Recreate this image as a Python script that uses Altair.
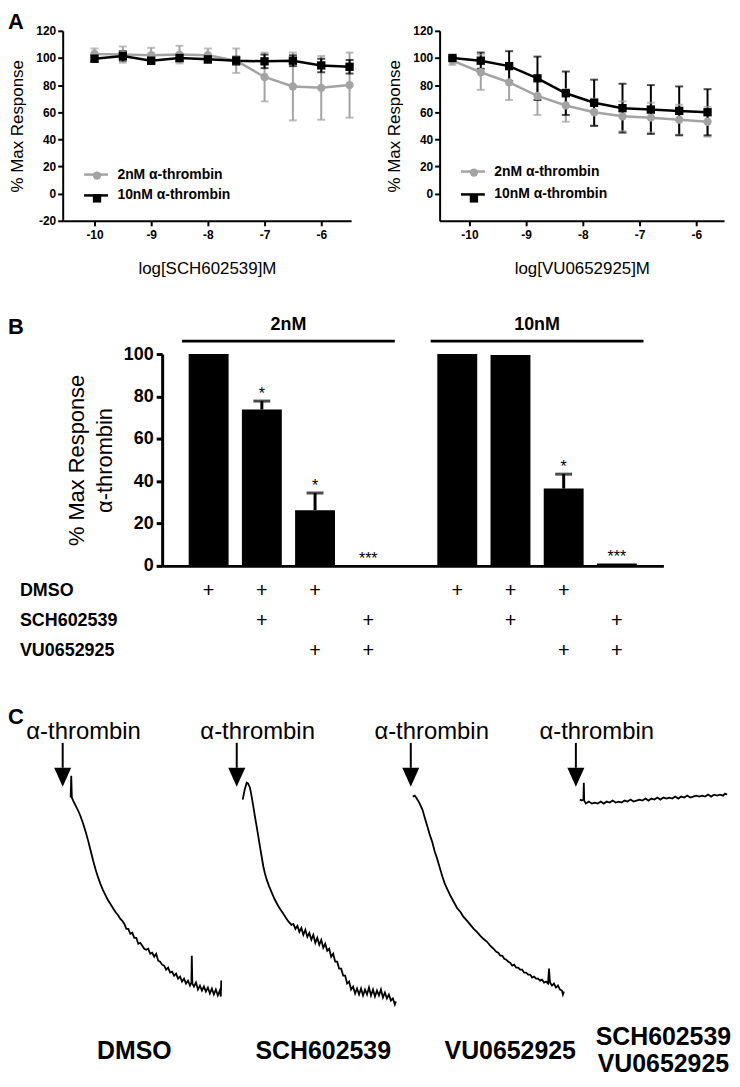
import altair as alt
import pandas as pd

FONT = "Liberation Sans"

# ---------------- Panel A: concentration-response ----------------
series_names = ["2nM α-thrombin", "10nM α-thrombin"]
series_colors = ["#a3a3a3", "#000000"]
series_shapes = ["circle", "square"]
a_xticks = [-10, -9, -8, -7, -6]

sch_logc = [-10, -9.5, -9, -8.5, -8, -7.5, -7, -6.5, -6, -5.5]
sch_2nm = [103, 102.5, 102, 102.5, 102, 98, 86, 79, 78, 80]
sch_2nm_err = [4, 6, 5.5, 6.5, 5, 9, 18, 25, 23.5, 24]
sch_10nm = [99.5, 101.5, 98, 100, 99, 98, 97.5, 98, 94.5, 93.5]
sch_10nm_err = [2.5, 3.5, 2.5, 2.5, 2.5, 3, 5, 4, 5, 5]

vu_logc = [-10.3, -9.8, -9.3, -8.8, -8.3, -7.8, -7.3, -6.8, -6.3, -5.8]
vu_2nm = [98, 89.5, 82, 72, 65, 60, 57, 56, 54.5, 53]
vu_2nm_err = [3, 13, 13, 14, 12, 10, 11, 11, 11, 11]
vu_10nm = [100, 98, 94, 85, 74, 67, 63, 62, 61, 60]
vu_10nm_err = [1, 6, 11, 16, 16, 17, 18, 18, 18, 17]

# ---------------- Panel B: bar chart ----------------
groups = ["2nM", "10nM"]
conds = ["DMSO", "DMSO+SCH602539", "DMSO+VU0652925", "SCH602539+VU0652925"]
resp = {"2nM": [100, 73.8, 26.3, 0], "10nM": [100, 99.5, 36.5, 1.1]}
resp_err = {"2nM": [0, 4, 8.1, 0], "10nM": [0, 0, 6.8, 0]}
resp_sig = {"2nM": ["", "*", "*", "***"], "10nM": ["", "", "*", "***"]}
treat_rows = ["DMSO", "SCH602539", "VU0652925"]
treat_table = {"DMSO": [1, 1, 1, 0], "SCH602539": [0, 1, 0, 1], "VU0652925": [0, 0, 1, 1]}

# ---------------- Panel C: calcium traces (time after addition, signal) ----------------
trace_keys = ["DMSO", "SCH602539", "VU0652925", "SCH602539 + VU0652925"]
trace_labels = ["DMSO", "SCH602539", "VU0652925", "SCH602539\nVU0652925"]
trace_dmso = [
    (8, 212), (8.6, 234), (9.2, 212), (10.5, 209), (13, 204), (15.5, 199), (18, 193), (20.5, 186),
    (23, 178), (25.5, 169), (28, 159), (30.5, 149), (33, 140), (35.5, 132), (38, 125), (40.5, 119),
    (43, 114), (45.5, 109), (48, 105), (50.5, 101), (53, 97), (55.5, 94), (58, 90), (60, 88),
    (62, 85), (64, 80), (66, 80), (68, 75), (70, 76), (72, 71), (74, 71), (76, 65), (78, 66),
    (80, 63), (82, 60), (84, 59), (86, 60), (88, 55), (90, 56), (92, 52), (94, 55), (96, 48),
    (98, 47), (100, 44), (102, 43), (104, 39), (106, 41), (108, 36), (110, 37), (112, 33),
    (114, 35), (116, 30), (118, 32), (120, 27), (122, 30), (124, 25), (126, 28), (128, 23),
    (129.4, 26), (129.8, 53), (130.4, 25), (132, 22), (134, 26), (136, 19), (138, 23), (140, 18),
    (142, 22), (144, 17), (146, 21), (148, 15), (150, 20), (152, 14), (154, 19), (156, 13),
    (158, 18), (159, 12), (159.4, 28),
]
trace_sch = [
    (6, 210), (8, 220), (10, 227), (11.5, 226), (13.3, 222), (15, 213), (16.7, 203), (18.3, 193),
    (20, 183), (21.7, 173), (23.3, 163), (25, 153), (26.7, 143), (28.3, 136), (30, 130),
    (32.5, 123), (35, 117), (38, 110), (41.7, 103), (45, 98), (48.3, 93), (51.5, 88), (55, 84),
    (57, 85), (59, 80), (61, 83), (63, 77), (65, 81), (67, 74), (69, 79), (71, 72), (73, 76),
    (75, 69), (77, 74), (79, 66), (81, 71), (83, 64), (85, 69), (87, 61), (89, 65), (91, 58),
    (93, 60), (95, 52), (97, 55), (99, 47), (101, 47), (103, 40), (105, 40), (107, 33), (109, 33),
    (111, 25), (113, 27), (115, 19), (117, 22), (119, 15), (121, 20), (123, 14), (125, 20),
    (127, 13), (129, 19), (131, 14), (133, 21), (135, 13), (137, 19), (139, 12), (141, 18),
    (143, 13), (145, 19), (147, 11), (149, 16), (151, 10), (153, 14), (155, 8), (157, 10),
    (159, 4), (160, 7),
]
trace_vu = [
    (2, 213), (4, 214), (6, 211), (8.5, 207), (11.7, 200), (14, 192), (16.7, 183), (19, 175),
    (21.7, 167), (24, 158), (26.7, 150), (29, 142), (31.7, 133), (34, 126), (36.7, 120), (40, 113),
    (43.3, 107), (46.5, 101), (50, 97), (53, 92), (56.7, 88), (60, 84), (63.3, 80), (66.5, 77),
    (70, 73), (73, 70), (76.7, 67), (80, 63), (83.3, 60), (86, 57), (88, 56), (90, 53), (92, 53),
    (94, 50), (96, 49), (98, 47), (100, 46), (102, 43), (104, 44), (106, 41), (108, 41), (110, 39),
    (112, 39), (114, 36), (116, 36), (118, 34), (120, 34), (122, 31), (124, 32), (126, 30),
    (128, 30), (130, 28), (132, 29), (134, 26), (136, 27), (138, 25), (139, 40), (140, 26),
    (142, 23), (144, 25), (146, 21), (148, 23), (150, 19), (152, 18), (153, 14), (154, 17),
]
trace_combo = [
    (4, 210), (6, 209), (7.6, 210), (8, 227), (8.4, 209), (10, 206), (13, 208), (16, 206),
    (19, 207), (22, 206), (25, 208), (28, 206), (31, 208), (34, 207), (37, 209), (40, 207),
    (43, 208), (46, 207), (49, 209), (52, 208), (55, 210), (58, 208), (61, 209), (64, 210),
    (67, 209), (70, 211), (73, 209), (76, 211), (79, 210), (82, 212), (85, 210), (88, 212),
    (91, 211), (94, 212), (97, 211), (100, 213), (103, 211), (106, 213), (109, 212), (112, 214),
    (115, 212), (118, 213), (121, 214), (124, 213), (127, 214), (130, 213), (133, 215),
    (136, 213), (139, 215), (142, 214), (145, 215), (148, 214), (150, 216), (152, 215),
]
traces = [trace_dmso, trace_sch, trace_vu, trace_combo]

# layout (pixels inside the shared figure column)
A_LEFT_RANGE = [0, 290]
A_RIGHT_RANGE = [379, 665]
B_RANGE = [100, 604]
C_OFFSETS = [0, 175, 350, 516]
C_SPAN = 153
C_LABEL_DX = [72, 87, 100, 88]
C_LABEL_DY = [0, 0, 0, -14]


def letter(ch, dx, dy):
    return alt.Chart(pd.DataFrame({"letter": [ch]})).mark_text(
        align="left", baseline="top", fontSize=22, fontWeight="bold", color="black"
    ).encode(text="letter:N", x=alt.value(dx), y=alt.value(dy))


def spacer(h):
    return alt.Chart(pd.DataFrame({"gap": [0]})).mark_point(opacity=0).encode(
        x=alt.value(0), y=alt.value(0)).properties(width=10, height=h)


# ======================= panel A =======================
def dose_frame(logc, m1, e1, m2, e2):
    rows = []
    for name, means, errs in ((series_names[0], m1, e1), (series_names[1], m2, e2)):
        for xv, mv, ev in zip(logc, means, errs):
            rows.append({"logc": xv, "series": name, "mean": mv, "lo": mv - ev, "hi": mv + ev})
    return pd.DataFrame(rows)


def dose_panel(df, xdomain, xrange, yvals, xtitle, yoffset, leg):
    xs = alt.Scale(domain=xdomain, range=xrange, nice=False, zero=False)
    ys = alt.Scale(domain=[-20, 120], nice=False, zero=False)
    xaxis = alt.Axis(values=a_xticks, labelExpr="toString(datum.value)", title=xtitle,
                     orient="bottom", labelFontSize=12, labelFontWeight="bold", labelPadding=4,
                     tickSize=5, tickWidth=2, domainWidth=2, titleFontSize=17,
                     titleFontWeight="normal", titlePadding=20, grid=False)
    yaxis = alt.Axis(values=yvals, labelExpr="toString(datum.value)", title="% Max Response",
                     orient="left", offset=yoffset, labelFontSize=12, labelFontWeight="bold",
                     labelPadding=2, tickSize=5, tickWidth=2, domainWidth=2, titleFontSize=17,
                     titleFontWeight="normal", titlePadding=9, grid=False)
    X = alt.X("logc:Q", scale=xs, axis=xaxis)

    def Y(field):
        return alt.Y(f"{field}:Q", scale=ys, axis=yaxis)

    cscale = alt.Scale(domain=series_names, range=series_colors)
    sscale = alt.Scale(domain=series_names, range=series_shapes)
    lx, ly, pitch = leg
    stroke_leg = alt.Legend(title=None, orient="none", legendX=lx, legendY=ly,
                            symbolType="stroke", symbolSize=576, symbolStrokeWidth=2.5,
                            labelFontSize=14, labelFontWeight="bold", labelOffset=8,
                            rowPadding=pitch - 24, padding=0, labelColor="black")
    point_leg = alt.Legend(title=None, orient="none", legendX=lx + 7.5, legendY=ly + 7.5,
                           symbolSize=70, labelFontSize=14, labelExpr="''",
                           rowPadding=pitch - 14, padding=0)
    base = alt.Chart(df)
    nolegend = alt.Color("series:N", scale=cscale, legend=None)
    err = base.mark_rule(strokeWidth=2).encode(X, Y("lo"), y2="hi:Q", color=nolegend)
    cap_lo = base.mark_tick(orient="horizontal", size=8, thickness=2).encode(X, Y("lo"), color=nolegend)
    cap_hi = base.mark_tick(orient="horizontal", size=8, thickness=2).encode(X, Y("hi"), color=nolegend)
    line = base.mark_line(strokeWidth=2.5).encode(
        X, Y("mean"), color=alt.Color("series:N", scale=cscale, legend=stroke_leg))
    pts = base.mark_point(filled=True, size=70, opacity=1).encode(
        X, Y("mean"),
        color=alt.Color("series:N", scale=cscale, legend=point_leg),
        shape=alt.Shape("series:N", scale=sscale, legend=point_leg))
    return alt.layer(err, cap_lo, cap_hi, line, pts).resolve_legend(
        color="independent", shape="independent")


df_sch = dose_frame(sch_logc, sch_2nm, sch_2nm_err, sch_10nm, sch_10nm_err)
df_vu = dose_frame(vu_logc, vu_2nm, vu_2nm_err, vu_10nm, vu_10nm_err)

a_left = dose_panel(df_sch, [-10.561, -5.473], A_LEFT_RANGE, [-20, 0, 20, 40, 60, 80, 100, 120],
                    "log[SCH602539]M", 0, (A_LEFT_RANGE[0] + 20, 131, 23))
a_right = dose_panel(df_vu, [-10.526, -5.509], A_RIGHT_RANGE, [0, 20, 40, 60, 80, 100, 120],
                     "log[VU0652925]M", -A_RIGHT_RANGE[0], (A_RIGHT_RANGE[0] + 20, 128, 26))
row_a = alt.layer(a_left, a_right, letter("A", -55, -19)).resolve_scale(
    x="independent", y="independent").resolve_legend(
    color="independent", shape="independent").properties(width=665, height=191)

# ======================= panel B =======================
brows = []
for g in groups:
    for i, c in enumerate(conds):
        r, e = resp[g][i], resp_err[g][i]
        brows.append({"group": g, "cond": c, "resp": r, "err": e, "top": r + e, "sig": resp_sig[g][i]})
df_b = pd.DataFrame(brows)
trows = []
for rname in treat_rows:
    for g in groups:
        for i, c in enumerate(conds):
            if treat_table[rname][i]:
                trows.append({"row": rname, "group": g, "cond": c, "sym": "+"})
df_t = pd.DataFrame(trows)
df_rows = pd.DataFrame({"row": treat_rows})
df_groups = pd.DataFrame({"group": groups})

xg = alt.X("group:N", scale=alt.Scale(domain=groups, range=B_RANGE, paddingInner=0.144,
                                      paddingOuter=0.08),
           axis=alt.Axis(labels=False, ticks=False, title=None, domainWidth=3, grid=False))
xo = alt.XOffset("cond:N", scale=alt.Scale(domain=conds, paddingInner=0.25, paddingOuter=0.125))
yaxis_b = alt.Axis(values=[0, 20, 40, 60, 80, 100], title=["% Max Response", "α-thrombin"],
                   orient="left", offset=-B_RANGE[0],
                   titleFontSize=22, titleFontWeight="normal", titleLineHeight=28, titlePadding=7,
                   labelFontSize=18, labelFontWeight="bold", labelPadding=3, tickSize=6,
                   tickWidth=3, domainWidth=3, grid=False)
ys_b = alt.Scale(domain=[0, 100], nice=False)


def YB(field):
    return alt.Y(f"{field}:Q", scale=ys_b, axis=yaxis_b)


bbase = alt.Chart(df_b)
bars = bbase.mark_bar(color="black").encode(x=xg, xOffset=xo, y=YB("resp"))
stems = bbase.transform_filter("datum.err > 0").mark_rule(strokeWidth=3, color="black").encode(
    x=xg, xOffset=xo, y=YB("resp"), y2="top:Q")
caps = bbase.transform_filter("datum.err > 0").mark_tick(
    orient="horizontal", size=17, thickness=3, color="black").encode(x=xg, xOffset=xo, y=YB("top"))
stars = bbase.transform_filter("datum.sig != ''").mark_text(
    fontSize=16, baseline="alphabetic", dy=-2, color="black").encode(
    x=xg, xOffset=xo, y=YB("top"), text="sig:N")
brackets = alt.Chart(df_groups).mark_rect(color="black").encode(
    x=xg, y=alt.value(-14.5), y2=alt.value(-11.5))
glabels = alt.Chart(df_groups).mark_text(fontSize=18, fontWeight="bold", baseline="middle",
                                         color="black").encode(
    x=xg, y=alt.value(-29), text="group:N")

yt = alt.Y("row:N", scale=alt.Scale(type="point", domain=treat_rows, range=[238, 299], padding=0),
           axis=None)
pluses = alt.Chart(df_t).mark_text(fontSize=20, baseline="middle", color="black").encode(
    x=xg, xOffset=xo, y=yt, text="sym:N")
rlabels = alt.Chart(df_rows).mark_text(align="left", baseline="middle", fontSize=18,
                                       fontWeight="bold", color="black").encode(
    x=alt.value(-43), y=yt, text="row:N")

main_b = alt.layer(bars, stems, caps, stars, brackets, glabels, letter("B", -55, -37))
table_b = alt.layer(rlabels, pluses)
row_b = alt.layer(main_b, table_b).resolve_scale(y="independent").properties(width=604, height=213)

# ======================= panel C =======================
crow = []
for key, lab, pts in zip(trace_keys, trace_labels, traces):
    for t, v in pts:
        crow.append({"cond": key, "kind": "trace", "t": t, "v": v, "label": ""})
    crow.append({"cond": key, "kind": "event", "t": 0, "v": None, "label": lab})
df_c = pd.DataFrame(crow)

yc = alt.Y("v:Q", scale=alt.Scale(domain=[0, 240], nice=False, zero=False), axis=None)
c_panels = []
for key, off, ldx, ldy in zip(trace_keys, C_OFFSETS, C_LABEL_DX, C_LABEL_DY):
    xc = alt.X("t:Q", scale=alt.Scale(domain=[0, C_SPAN], range=[off, off + C_SPAN], nice=False,
                                      zero=False), axis=None)
    cb = alt.Chart(df_c).transform_filter(alt.datum.cond == key)
    trace = cb.transform_filter(alt.datum.kind == "trace").mark_line(
        color="black", strokeWidth=1.8).encode(x=xc, y=yc)
    ev = cb.transform_filter(alt.datum.kind == "event")
    shaft = ev.mark_rule(strokeWidth=2, color="black").encode(
        x=xc, y=alt.value(-27), y2=alt.value(-2))
    head = ev.mark_point(shape="M-0.9,-1L0.9,-1L0,1Z", filled=True, size=361, color="black",
                         opacity=1, strokeWidth=0).encode(x=xc, y=alt.value(7.5))
    alabel = ev.mark_text(text="α-thrombin", fontSize=24, dx=21, baseline="middle",
                          color="black").encode(x=xc, y=alt.value(-38))
    blabel = ev.mark_text(fontSize=25, fontWeight="bold", lineBreak="\n", lineHeight=27,
                          baseline="middle", dx=ldx, dy=ldy, color="black").encode(
        x=xc, y=alt.value(283), text="label:N")
    c_panels.append(alt.layer(trace, shaft, head, alabel, blabel))

row_c = alt.layer(*c_panels, letter("C", -55, -63)).resolve_scale(x="independent").properties(
    width=669, height=240)

chart = alt.vconcat(row_a, spacer(134), row_b, spacer(205), row_c, spacing=0, bounds="flush",
                    padding=0).configure(font=FONT).configure_view(stroke=None).configure_axis(
    domainColor="black", tickColor="black", labelColor="black", titleColor="black")

chart.save("out.html", embed_options={"renderer": "svg", "actions": False})
